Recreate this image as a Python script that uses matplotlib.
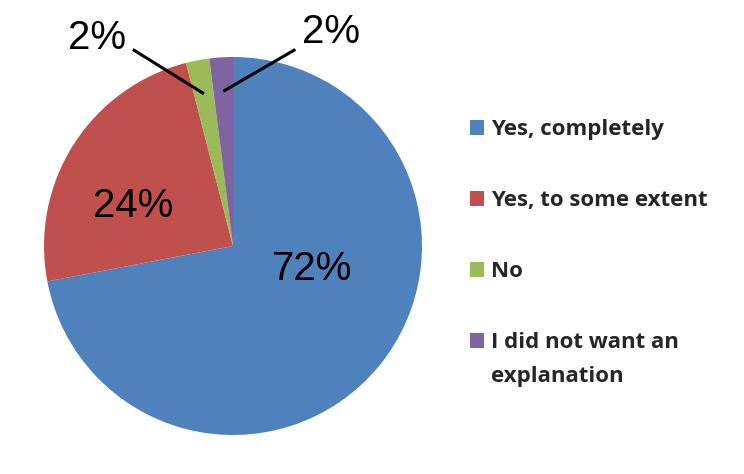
import math
import matplotlib.pyplot as plt

labels = ["Yes, completely", "Yes, to some extent", "No", "I did not want an"]
label_tail = "explanation"  # second line of the last legend entry
shares = [72, 24, 2, 2]
pct_text = ["72%", "24%", "2%", "2%"]
colors = ["#4F81BD", "#C0504D", "#9BBB59", "#8064A2"]

# where the percentage labels sit (data units of the unit pie)
label_pos = [(0.42, -0.12), (-0.53, 0.21), (-0.72, 1.10), (0.52, 1.13)]

fig = plt.figure(figsize=(7.44, 4.74), dpi=100)
W, H = 744, 474
cx, cy, r = 233, 246, 189
ax = fig.add_axes([(cx - r) / W, (H - cy - r) / H, 2 * r / W, 2 * r / H])

wedges, _ = ax.pie(shares, colors=colors, startangle=90, counterclock=False,
                   radius=1.0, wedgeprops=dict(linewidth=0))
ax.set_xlim(-1, 1)
ax.set_ylim(-1, 1)
ax.set_aspect("equal")
ax.axis("off")

for (x, y), t in zip(label_pos, pct_text):
    ax.text(x, y, t, ha="center", va="center", fontsize=29,
            family="Liberation Sans", color="black", clip_on=False)

# leader lines for the two small slices
starts = [(-0.53, 1.04), (0.33, 1.04)]
for w, (sx, sy) in zip(wedges[2:], starts):
    mid = math.radians((w.theta1 + w.theta2) / 2)
    ex, ey = 0.82 * math.cos(mid), 0.82 * math.sin(mid)
    ax.plot([sx, ex], [sy, ey], color="black", lw=2.2, clip_on=False,
            solid_capstyle="butt")

font = dict(family="Open Sans", weight="bold", size=16)
leg = fig.legend(wedges, labels, loc="upper left", bbox_to_anchor=(470 / W, 1 - 119 / H),
                 frameon=False, prop=font, labelcolor="#262626", labelspacing=2.25,
                 handlelength=0.65, handleheight=0.65, handletextpad=0.3,
                 borderpad=0, borderaxespad=0)

fig.canvas.draw()
bb = leg.get_texts()[-1].get_window_extent()
fig.text(bb.x0 / W, (bb.y0 - 34) / H, label_tail, ha="left", va="bottom",
         color="#262626", **font)

fig.savefig("out.png", dpi=100)
